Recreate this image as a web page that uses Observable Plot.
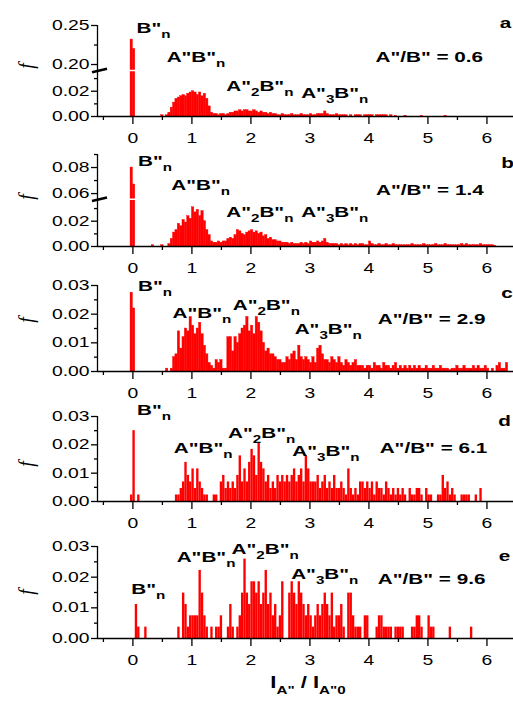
<!DOCTYPE html>
<html><head><meta charset="utf-8">
<script src="https://cdn.jsdelivr.net/npm/d3@7"></script>
<script src="https://cdn.jsdelivr.net/npm/@observablehq/plot@0.6"></script>
<style>
body{margin:0;background:#fff;}
#chart{width:513px;height:702px;overflow:hidden;background:#fff;}
.panel{position:relative;width:513px;}
.panel svg{position:absolute;left:0;top:0;display:block;}
</style></head><body><div id="chart"></div>
<script>
// ---- data: histogram frequencies f, bins of width 0.04 starting at x = -0.08 ----
const binStart = -0.08, binWidth = 0.04;

const fA = [0,.232,.220,0,0,0,0,0,0,0,0,0,0,0,.001,0,.001,.003,.007,.011,.014,.015,.016,.017,.016,.018,.019,.020,.019,.017,.019,.016,.018,.014,.008,.003,.002,.002,.001,.002,.002,.001,
.002,.003,.003,.004,.004,.005,.004,.005,.005,.004,.004,.005,.004,.003,.004,.003,.003,.002,.003,.002,.002,
.001,.001,.002,.001,.001,.001,.002,.001,.001,
.001,.002,.001,.001,.001,.002,.001,.001,.002,.002,
.002,.004,.002,.001,.001,.001,.002,.001,.001,.001,
.001,0,.001,0,.001,.001,.001,0,.001,.001,
.001,.001,0,.001,.001,.001,.001,.001,0,.001,
0,.0005,0,0,0,.0005,0,0,0,0,
0,0,.0005,0,0,0,0,0,0,0,
0,0,.0005];

const fB = [0,.080,.067,0,0,0,0,0,0,0,.001,0,0,0,.001,0,0,.002,.006,.011,.013,.018,.016,.021,.019,.024,.022,.031,.027,.029,.024,.028,.020,.013,.009,.004,.003,.003,.004,.003,.004,.004,
.006,.007,.006,.009,.013,.012,.010,.009,.011,.012,.013,.011,.012,.010,.011,.008,.009,.006,.007,.005,.005,
.004,.004,.003,.003,
.003,.002,.003,.002,.002,
.002,.003,.002,.003,.002,
.004,.003,.003,.004,.003,
.004,.006,.003,.002,.002,
.002,.002,.001,.002,.001,
.002,.001,.002,.001,.002,
.001,.002,.002,.001,.001,
.004,.002,.001,.001,.002,
.001,.001,.002,.001,.001,
.002,.001,.001,.001,.001,
.001,.001,.001,.002,.001,
.001,.001,.001,.002,.001,
.001,.001,.001,.002,.001,
.001,.001,.002,.001,.001,
.001,.001,.001,.001,.002,
.001,.002,.001,.001,.001,
.001,.001,.002,.001,.001,
.001,.001,.001,.0005];

const fC = [0,.0275,.022,0,0,0,0,0,0,0,0,0,0,0,0,0,.001,0,.001,.005,.006,.014,.008,.012,.015,.014,.019,.016,.013,.015,.017,.013,.009,.006,.003,.002,.001,.004,.003,.004,.001,.001,
.012,.012,.007,.012,.010,.013,.015,.016,.019,.014,.016,.013,.019,.017,.014,.010,.007,.008,.006,.006,
.005,.004,.004,.003,.003,
.005,.004,.006,.007,.004,
.009,.005,.004,.005,.004,
.003,.005,.003,.008,.009,
.006,.004,.004,.003,.005,
.004,.003,.005,.003,.002,
.004,.003,.002,.003,.004,
.002,.002,.002,.001,.002,
.002,.001,.003,.002,.002,
.001,.003,.002,.002,.001,
.002,.003,.001,.002,.001,
.002,.001,.002,.001,.002,
.001,.002,.001,.001,.002,
.001,.001,.002,.001,.001,
.002,.001,.001,.001,.0005,
.001,.001,.002,.001,.001,
.002,.001,.001,.001,.002,
.001,.002,.001,.001,.002,
.001,0,.001,0,.002,
.003,.001,.001,.003];

const fD = [0,.0023,.025,0,.0023,0,0,0,0,0,0,0,0,0,0,0,0,0,0,0,.0023,.0023,.0046,.0069,.0138,.0092,.0069,.0115,.0046,.0115,.0069,.0046,.0023,.0023,0,0,.0023,.0023,0,
.0069,.0092,.0046,.0069,.0046,.0069,.0046,.0092,.0161,.0069,.0115,.0069,.0138,.0184,.0161,.0092,.0207,.0138,.0115,.0069,.0092,.0046,.0069,
.0046,.0092,.0069,.0092,.0069,.0092,.0069,.0092,.0115,.0069,
.0092,.0115,.0069,.0161,.0115,.0069,.0069,.0069,.0092,.0046,
.0069,.0092,.0046,.0069,.0046,.0092,.0046,.0046,.0069,.0046,
.0023,.0115,.0046,.0023,.0046,.0023,.0069,.0069,.0046,.0069,
.0046,.0069,.0023,.0069,.0046,.0046,.0023,.0069,.0046,.0023,
.0046,.0023,.0046,.0023,.0046,.0023,0,.0046,.0023,.0023,
.0046,.0046,.0023,0,.0046,.0023,.0023,0,0,.0023,
.0023,.0092,.0046,.0069,.0023,.0046,.0023,0,0,.0023,
.0023,.0023,.0023,0,0,.0023,0,.0046];

const fE = [0,0,0,.0111,.0037,0,0,.0037,0,0,0,0,0,0,0,0,0,0,0,0,0,.0037,0,.0148,.0111,.0037,.0074,.0074,.0074,.0074,.0222,.0148,.0074,.0037,0,.0037,0,.0037,.0037,.0074,0,0,
.0037,.0111,.0037,0,.0037,.0074,.0148,.0259,.0148,.0111,.0185,.0185,.0148,.0185,.0111,.0148,.0222,.0111,.0148,.0074,.0111,.0037,.0074,.0185,0,0,
.0148,.0185,.0148,.0111,.0185,.0148,.0111,.0074,.0111,
.0074,.0037,.0074,.0111,.0074,.0111,.0148,.0111,.0074,.0148,
.0037,.0074,.0074,.0111,.0037,0,.0148,.0148,.0074,.0037,
.0037,.0037,0,.0074,.0074,0,0,0,.0037,.0074,
.0074,.0037,.0037,.0037,.0037,0,.0037,.0037,.0037,.0037,
0,0,0,.0037,.0037,.0074,.0074,.0037,0,0,
.0074,.0037,.0037,0,0,0,0,0,0,.0037,
0,0,0,0,0,0,0,0,.0037];

const ratioValues = ["0.6", "1.4", "2.9", "6.1", "9.6"];
const panelLetters = ["a", "b", "c", "d", "e"];
const xTicks = [0, 1, 2, 3, 4, 5, 6];
const xMinorTicks = [-0.5, 0.5, 1.5, 2.5, 3.5, 4.5, 5.5];

// ---- layout ----
const FONT = '"Liberation Sans", Arial, Helvetica, sans-serif';
const STRETCH = 1.38;
const xDomain = [-0.6, 6.45];

const panels = [
  {values: fA, height: 145, mt: 25, mb: 29, solid: true,
   split: {breakPx: 70.5, lower: [0, .036], upper: [.1917, .25]},
   yTicks: [0, .02, .20, .25], yMinor: [.01, .03, .225], fY: 66,
   labels: {B: [0.07, .2397], AB: [0.58, .203], A2B: [1.59, .020], A3B: [2.86, .014], ratio: [4.12, .203], letter: [6.225, .246]}},
  {values: fB, height: 130, mt: 9, mb: 29, solid: true,
   split: {breakPx: 54.2, lower: [0, .037], upper: [.0553, .09]},
   yTicks: [0, .02, .06, .08], yMinor: [.01, .03, .07, .09], fY: 52,
   labels: {B: [0.095, .081], AB: [0.66, .0626], A2B: [1.59, .0227], A3B: [2.86, .0227], ratio: [4.13, .0587], letter: [6.25, .0795]}},
  {values: fC, height: 131, mt: 10, mb: 35, yDomain: [0, .03], solid: true,
   yTicks: [0, .01, .02, .03], yMinor: [.005, .015, .025], fY: 45,
   labels: {B: [0.095, .0279], AB: [0.68, .0184], A2B: [1.70, .0213], A3B: [2.75, .0128], ratio: [4.16, .0163], letter: [6.25, .0253]}},
  {values: fD, height: 130, mt: 10, mb: 35, yDomain: [0, .03],
   yTicks: [0, .01, .02, .03], yMinor: [.005, .015, .025], fY: 58,
   labels: {B: [0.08, .0304], AB: [0.70, .0169], A2B: [1.62, .0222], A3B: [2.71, .0158], ratio: [4.19, .0169], letter: [6.20, .0263]}},
  {values: fE, height: 166, mt: 10, mb: 64, yDomain: [0, .03],
   yTicks: [0, .01, .02, .03], yMinor: [.005, .015, .025], fY: 56,
   labels: {B: [-0.02, .0145], AB: [0.75, .0247], A2B: [1.68, .0274], A3B: [2.69, .0194], ratio: [4.16, .0177], letter: [6.21, .0252]},
   xTitle: true}
];

function toBins(values) {
  return values.map((f, i) => ({x1: binStart + i * binWidth, x2: binStart + (i + 1) * binWidth, f}))
               .filter(d => d.f > 0);
}

function stretchText(t) {
  let tr = t.getAttribute("transform") || "";
  const x = t.getAttribute("x");
  if (x !== null) { tr += ` translate(${x},0)`; t.removeAttribute("x"); }
  t.setAttribute("transform", (tr + ` scale(${STRETCH},1)`).trim());
}

function richText(svg, x, y, parts, {size = 15, subSize = 11, shift = 5, anchor = "start"} = {}) {
  const t = svg.append("text")
    .attr("transform", `translate(${x},${y}) scale(${STRETCH},1)`)
    .attr("text-anchor", anchor)
    .attr("font-family", FONT)
    .attr("font-weight", "bold")
    .attr("font-size", size)
    .attr("fill", "#000");
  let inSub = false;
  for (const [s, sub] of parts) {
    const sp = t.append("tspan").text(s);
    if (sub) {
      sp.attr("font-size", subSize);
      if (!inSub) sp.attr("dy", shift);
      inSub = true;
    } else {
      if (inSub) sp.attr("dy", -shift);
      inSub = false;
    }
  }
  return t;
}

const Q = '"';
const labelParts = {
  B: [["B" + Q, 0], ["n", 1]],
  AB: [["A" + Q + "B" + Q, 0], ["n", 1]],
  A2B: [["A" + Q, 0], ["2", 1], ["B" + Q, 0], ["n", 1]],
  A3B: [["A" + Q, 0], ["3", 1], ["B" + Q, 0], ["n", 1]]
};

function makePlot(cfg, {mt, mb, domain, showX, transparent}) {
  const inDom = v => v >= domain[0] - 1e-9 && v <= domain[1] + 1e-9;
  const rectOpts = {x1: "x1", x2: "x2", y1: 0, y2: "f", fill: "#ff0000", clip: true};
  if (cfg.solid) Object.assign(rectOpts, {stroke: "#ff0000", strokeWidth: 0.4});
  const marks = [
    Plot.rect(toBins(cfg.values), rectOpts),
    Plot.ruleX([xDomain[0]], {stroke: "#000", strokeWidth: 1.3}),
    Plot.axisY(cfg.yTicks.filter(inDom), {tickSize: 6, tickPadding: 2, strokeWidth: 1.3, label: null, tickFormat: d3.format(".2f")}),
    Plot.axisY(cfg.yMinor.filter(inDom), {tickSize: 3, strokeWidth: 1.3, label: null, tickFormat: () => ""})
  ];
  if (showX) {
    marks.push(
      Plot.ruleY([0], {stroke: "#000", strokeWidth: 1.3}),
      Plot.axisX(xTicks, {tickSize: 8, tickPadding: 9, strokeWidth: 1.3, label: null, tickFormat: d => String(d)}),
      Plot.axisX(xMinorTicks, {tickSize: 4, strokeWidth: 1.3, label: null, tickFormat: () => ""})
    );
  }
  const plot = Plot.plot({
    width: 513, height: cfg.height,
    marginLeft: 97, marginRight: 0, marginTop: mt, marginBottom: mb,
    style: {fontFamily: FONT, fontSize: "14px", color: "#000", background: transparent ? "transparent" : "#fff", overflow: "visible"},
    x: showX ? {domain: xDomain} : {domain: xDomain, axis: null},
    y: {domain},
    marks
  });
  plot.querySelectorAll("text").forEach(stretchText);
  return plot;
}

const chart = document.getElementById("chart");

panels.forEach((cfg, pi) => {
  const div = document.createElement("div");
  div.className = "panel";
  div.style.height = cfg.height + "px";
  chart.appendChild(div);

  let top, X, Y;
  if (cfg.split) {
    const s = cfg.split;
    const upper = makePlot(cfg, {mt: cfg.mt, mb: cfg.height - s.breakPx, domain: s.upper, showX: false, transparent: false});
    const lower = makePlot(cfg, {mt: s.breakPx, mb: cfg.mb, domain: s.lower, showX: true, transparent: true});
    div.appendChild(upper);
    div.appendChild(lower);
    top = lower;
    const su = upper.scale("y"), sl = lower.scale("y");
    const sx = lower.scale("x");
    X = v => sx.apply(v);
    Y = v => (v > s.lower[1] ? su.apply(v) : sl.apply(v));
  } else {
    const p = makePlot(cfg, {mt: cfg.mt, mb: cfg.mb, domain: cfg.yDomain, showX: true, transparent: false});
    div.appendChild(p);
    top = p;
    const sx = p.scale("x"), sy = p.scale("y");
    X = v => sx.apply(v);
    Y = v => sy.apply(v);
  }

  const svg = d3.select(top);

  // axis break marks
  if (cfg.split) {
    const b = cfg.split.breakPx;
    svg.append("line").attr("x1", 98).attr("x2", 513).attr("y1", b).attr("y2", b)
      .attr("stroke", "#fff").attr("stroke-width", 1.6);
    svg.append("line").attr("x1", 92).attr("y1", b + 1.8).attr("x2", 107).attr("y2", b - 1.8)
      .attr("stroke", "#000").attr("stroke-width", 2.6);
  }

  // peak labels
  const L = cfg.labels;
  for (const key of ["B", "AB", "A2B", "A3B"]) {
    richText(svg, X(L[key][0]), Y(L[key][1]), labelParts[key]);
  }
  richText(svg, X(L.ratio[0]), Y(L.ratio[1]), [["A" + Q + "/B" + Q + " = " + ratioValues[pi], 0]]);
  richText(svg, X(L.letter[0]), Y(L.letter[1]), [[panelLetters[pi], 0]]);

  // y axis title
  svg.append("text")
    .attr("transform", `translate(26,${cfg.fY}) rotate(-90)`)
    .attr("text-anchor", "middle").attr("dy", "0.35em")
    .attr("font-family", '"Liberation Serif", "Times New Roman", serif')
    .attr("font-style", "italic").attr("font-size", 20).attr("fill", "#000")
    .text("f");

  // x axis title
  if (cfg.xTitle) {
    richText(svg, 308, 152, [["I", 0], ["A" + Q, 1], [" / I", 0], ["A" + Q + "0", 1]],
      {size: 16, subSize: 11, shift: 6, anchor: "middle"});
  }
});
</script>
</body></html>
